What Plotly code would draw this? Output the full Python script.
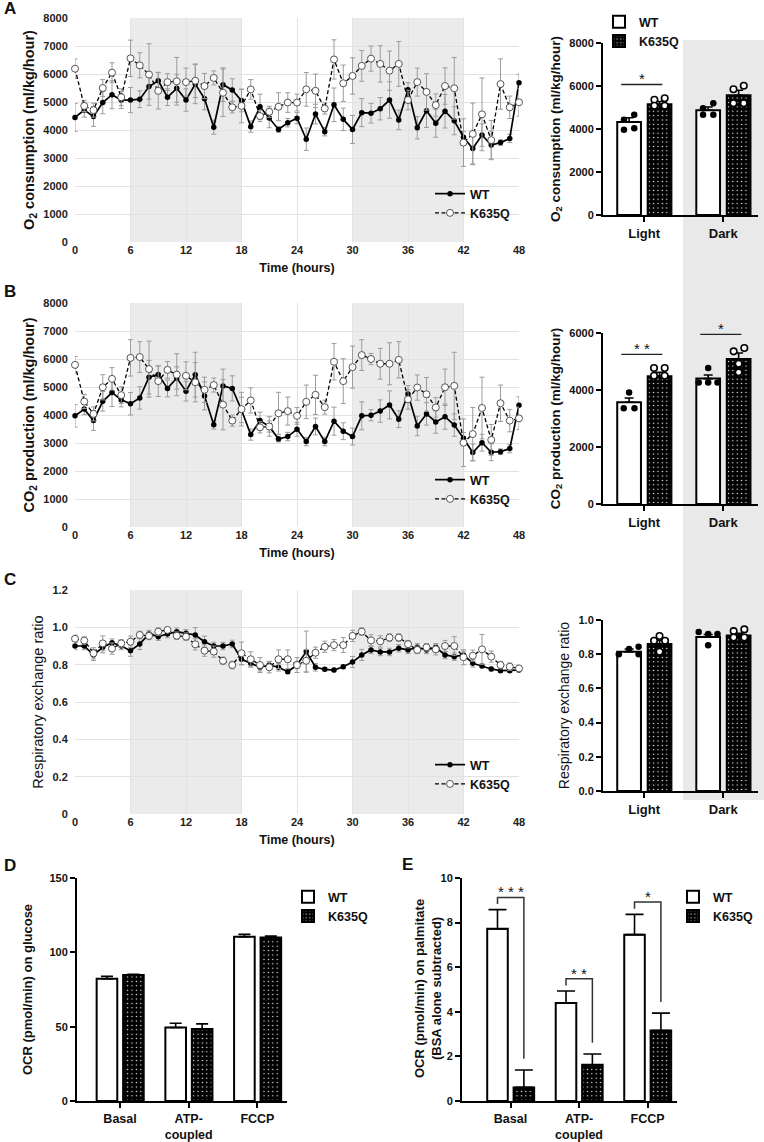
import plotly.graph_objects as go

W, H = 764, 1142
FONT = "Liberation Sans, Arial, sans-serif"

# ---------------- data ----------------
HOURS = list(range(49))
HOUR_TICKS = list(range(0, 49, 6))
DARK_PHASES = [[6, 18], [30, 42]]
GENOTYPES = ["WT", "K635Q"]
PHASES = ["Light", "Dark"]
SEAHORSE_CATS = ["Basal", "ATP-<br>coupled", "FCCP"]

O2_WT = [4450, 4710, 4480, 4980, 5260, 5070, 5070, 5100, 5550, 5760,
         5170, 5490, 5070, 5640, 5120, 4100, 5620, 5430, 5050, 4120,
         4830, 4430, 4020, 4260, 4420, 3670, 4570, 3940, 4900, 4380,
         4020, 4620, 4600, 4760, 5070, 4360, 5440, 4080, 4690, 4240,
         4670, 4330, 3740, 3340, 3820, 3460, 3550, 3700, 5690]
O2_WT_ERR = [500, 250, 350, 400, 500, 300, 450, 300, 450, 300,
             300, 500, 400, 700, 400, 250, 600, 400, 400, 200,
             450, 350, 100, 150, 200, 400, 350, 150, 600, 400,
             500, 500, 350, 400, 650, 350, 250, 400, 600, 500,
             600, 500, 200, 550, 400, 500, 100, 150, 300]
O2_KQ = [6190, 4860, 4710, 5500, 6050, 5170, 6560, 6310, 5980, 5400,
         5710, 5740, 5710, 5760, 5570, 5860, 5330, 4810, 4860, 5450,
         4500, 4650, 4830, 4980, 4980, 5450, 5400, 4770, 6520, 5670,
         5930, 6290, 6550, 6360, 6120, 6360, 5070, 5710, 5360, 4890,
         5570, 5490, 3550, 3860, 4560, 3640, 5640, 4810, 4990]
O2_KQ_ERR = [350, 200, 250, 300, 350, 300, 650, 450, 1100, 650,
             300, 850, 500, 600, 450, 250, 850, 200, 600, 350,
             200, 200, 500, 350, 300, 600, 600, 200, 700, 650,
             650, 550, 450, 650, 700, 800, 350, 500, 650, 400,
             650, 1100, 850, 1100, 1300, 700, 900, 400, 500]

CO2_WT = [3970, 4210, 3800, 4490, 4800, 4540, 4400, 4610, 5350, 5450,
          4950, 5320, 4850, 5440, 4680, 3650, 5040, 4950, 4180, 3300,
          3800, 3590, 3140, 3230, 3490, 3050, 3590, 3050, 3780, 3420,
          3230, 3970, 3990, 4140, 4360, 3850, 4750, 3610, 4040, 3750,
          3940, 3640, 3170, 2660, 3010, 2670, 2690, 2800, 4350]
CO2_WT_ERR = [400, 200, 350, 350, 500, 250, 400, 400, 600, 300,
              300, 400, 350, 800, 500, 150, 600, 450, 450, 200,
              300, 350, 100, 150, 250, 150, 300, 150, 500, 300,
              300, 500, 200, 400, 500, 300, 300, 350, 400, 400,
              450, 400, 200, 300, 300, 300, 100, 150, 300]
CO2_KQ = [5790, 4480, 4040, 4990, 5290, 4710, 6040, 6070, 5640, 5210,
          5610, 5440, 5400, 5170, 4900, 5070, 4370, 3800, 4210, 4520,
          3560, 3590, 4060, 4140, 3970, 4470, 4720, 4280, 5900, 5210,
          5710, 6140, 6000, 5830, 5830, 5970, 4560, 4980, 4740, 4270,
          4990, 5040, 3010, 3320, 4250, 3110, 4420, 3800, 3880]
CO2_KQ_ERR = [300, 250, 250, 450, 400, 300, 650, 550, 1000, 550,
              300, 750, 500, 700, 450, 250, 900, 200, 600, 450,
              200, 200, 750, 500, 300, 600, 700, 250, 650, 800,
              750, 550, 200, 550, 750, 650, 350, 450, 600, 350,
              650, 1200, 850, 950, 1100, 550, 650, 400, 400]

RER_WT = [0.900, 0.900, 0.852, 0.893, 0.918, 0.900, 0.875, 0.911, 0.964, 0.950,
          0.964, 0.977, 0.968, 0.959, 0.923, 0.900, 0.900, 0.911, 0.829, 0.807,
          0.786, 0.798, 0.786, 0.762, 0.798, 0.870, 0.786, 0.775, 0.771, 0.789,
          0.814, 0.852, 0.879, 0.868, 0.868, 0.888, 0.879, 0.893, 0.879, 0.893,
          0.852, 0.843, 0.852, 0.807, 0.793, 0.777, 0.768, 0.768, 0.771]
RER_WT_ERR = [0.02, 0.02, 0.03, 0.03, 0.02, 0.02, 0.03, 0.03, 0.02, 0.02,
              0.02, 0.02, 0.02, 0.04, 0.03, 0.02, 0.02, 0.02, 0.03, 0.02,
              0.02, 0.02, 0.02, 0.01, 0.02, 0.11, 0.02, 0.01, 0.01, 0.01,
              0.03, 0.03, 0.02, 0.02, 0.02, 0.02, 0.02, 0.02, 0.02, 0.02,
              0.02, 0.02, 0.02, 0.02, 0.01, 0.01, 0.01, 0.01, 0.01]
RER_KQ = [0.939, 0.929, 0.861, 0.914, 0.886, 0.914, 0.923, 0.959, 0.954, 0.977,
          0.986, 0.955, 0.950, 0.909, 0.875, 0.870, 0.821, 0.798, 0.861, 0.829,
          0.798, 0.786, 0.829, 0.829, 0.798, 0.821, 0.864, 0.896, 0.905, 0.905,
          0.954, 0.977, 0.930, 0.925, 0.945, 0.945, 0.910, 0.879, 0.893, 0.882,
          0.900, 0.900, 0.840, 0.848, 0.882, 0.843, 0.798, 0.789, 0.780]
RER_KQ_ERR = [0.02, 0.02, 0.03, 0.04, 0.03, 0.02, 0.03, 0.02, 0.02, 0.02,
              0.01, 0.02, 0.02, 0.03, 0.03, 0.03, 0.02, 0.02, 0.06, 0.04,
              0.04, 0.03, 0.05, 0.05, 0.04, 0.06, 0.03, 0.03, 0.03, 0.04,
              0.03, 0.02, 0.03, 0.03, 0.02, 0.02, 0.02, 0.02, 0.02, 0.03,
              0.03, 0.05, 0.04, 0.03, 0.08, 0.03, 0.02, 0.02, 0.01]

# light/dark summaries: [Light, Dark]
O2_BAR_WT = [4330, 4870]
O2_BAR_WT_ERR = [190, 150]
O2_BAR_KQ = [5150, 5570]
O2_BAR_KQ_ERR = [130, 230]
O2_PTS_WT = [[4430, 4660, 3960, 4040], [4970, 5200, 4660, 4660]]
O2_PTS_KQ = [[5360, 5430, 5080, 5080], [5850, 6010, 5200, 5200]]
O2_SIG = ["*", ""]

CO2_BAR_WT = [3570, 4400]
CO2_BAR_WT_ERR = [150, 125]
CO2_BAR_KQ = [4480, 5090]
CO2_BAR_KQ_ERR = [140, 210]
CO2_PTS_WT = [[3915, 3364, 3364], [4771, 4267, 4267, 4267]]
CO2_PTS_KQ = [[4771, 4771, 4502, 4502], [5357, 5474, 4923, 4619]]
CO2_SIG = ["* *", "*"]

RER_BAR_WT = [0.815, 0.900]
RER_BAR_WT_ERR = [0.015, 0.015]
RER_BAR_KQ = [0.860, 0.910]
RER_BAR_KQ_ERR = [0.020, 0.012]
RER_PTS_WT = [[0.844, 0.830, 0.800, 0.800], [0.930, 0.918, 0.918, 0.853]]
RER_PTS_KQ = [[0.906, 0.879, 0.879, 0.814], [0.935, 0.945, 0.898, 0.898]]

GLU_WT = [82.2, 49.4, 110.5]
GLU_WT_ERR = [1.6, 2.9, 1.6]
GLU_KQ = [84.7, 48.5, 110.0]
GLU_KQ_ERR = [0.5, 3.4, 0.9]

PAL_WT = [7.72, 4.39, 7.46]
PAL_WT_ERR = [0.86, 0.54, 0.91]
PAL_KQ = [0.61, 1.62, 3.16]
PAL_KQ_ERR = [0.78, 0.49, 0.78]
PAL_SIG = ["* * *", "* *", "*"]

# ---------------- style / layout constants ----------------
GRID = "#e2e2e2"
SHADE = "#ebebeb"
ERRGREY = "#9c9c9c"

# horizontal dot offsets within a bar (layout only)
JIT_O2_WT = [[-0.065, 0.065, -0.065, 0.065], [-0.065, 0.065, -0.065, 0.065]]
JIT_O2_KQ = [[-0.065, 0.065, -0.065, 0.065], [-0.065, 0.065, -0.065, 0.065]]
JIT_CO2_WT = [[0.0, -0.068, 0.068], [0.0, -0.12, 0.0, 0.118]]
JIT_CO2_KQ = [[-0.07, 0.065, -0.07, 0.065], [-0.063, 0.072, 0.0, 0.0]]
JIT_RER_WT = [[0.12, 0.0, -0.13, 0.12], [-0.12, 0.0, 0.118, 0.0]]
JIT_RER_KQ = [[0.0, -0.07, 0.07, 0.0], [-0.063, 0.072, -0.063, 0.072]]

BAR_W = 0.30
WT_OFF = -0.34
KQ_OFF = 0.045


def xdom(l, r):
    return [l / W, r / W]


def ydom(t, b):
    return [1 - b / H, 1 - t / H]


def f(size, bold=True, color="#111"):
    d = dict(family=FONT, size=size, color=color)
    if bold:
        d["weight"] = "bold"
    return d


fig = go.Figure()
shapes = []
annotations = []


# ---------------- time series ----------------
def add_ts(wt, wt_err, kq, kq_err, n, leg):
    xa, ya = ("x", "y") if n == 1 else (f"x{n}", f"y{n}")
    fig.add_trace(go.Scatter(
        x=HOURS, y=wt, mode="lines+markers", name=GENOTYPES[0],
        line=dict(color="black", width=1.7),
        marker=dict(symbol="circle", size=5.5, color="black"),
        error_y=dict(type="data", array=wt_err, color=ERRGREY, thickness=1, width=2.5),
        xaxis=xa, yaxis=ya, legend=leg, legendgroup=f"{leg}wt", cliponaxis=False))
    fig.add_trace(go.Scatter(
        x=HOURS, y=kq, mode="lines+markers", name=GENOTYPES[1],
        line=dict(color="black", width=1.3, dash="4px,2.5px"),
        marker=dict(symbol="circle", size=7, color="white", line=dict(color="#444", width=0.9)),
        error_y=dict(type="data", array=kq_err, color=ERRGREY, thickness=1, width=2.5),
        xaxis=xa, yaxis=ya, legend=leg, legendgroup=f"{leg}kq", cliponaxis=False))
    for a, b in DARK_PHASES:
        shapes.append(dict(type="rect", xref=xa, yref=f"{ya} domain", x0=a, x1=b, y0=0, y1=1,
                           fillcolor=SHADE, line=dict(width=0), layer="below"))


add_ts(O2_WT, O2_WT_ERR, O2_KQ, O2_KQ_ERR, 1, "legend")
add_ts(CO2_WT, CO2_WT_ERR, CO2_KQ, CO2_KQ_ERR, 3, "legend3")
add_ts(RER_WT, RER_WT_ERR, RER_KQ, RER_KQ_ERR, 5, "legend4")


# ---------------- light/dark bars ----------------
KQ_MARKER = dict(color="black", line=dict(color="black", width=2),
                 pattern=dict(shape=".", fgcolor="white", bgcolor="black", size=4.4, solidity=0.08))
WT_MARKER = dict(color="white", line=dict(color="black", width=2))


def add_bars(cats, wt, wt_err, kq, kq_err, n, leg, showleg, capw):
    xa, ya = f"x{n}", f"y{n}"
    xs = list(range(len(cats)))
    fig.add_trace(go.Bar(
        x=xs, y=wt, width=BAR_W, offset=WT_OFF, name=GENOTYPES[0], marker=WT_MARKER,
        error_y=dict(type="data", array=wt_err, arrayminus=[0] * len(xs), symmetric=False,
                     color="black", thickness=1.6, width=capw),
        xaxis=xa, yaxis=ya, legend=leg, legendgroup=f"{leg}wt", showlegend=showleg))
    fig.add_trace(go.Bar(
        x=xs, y=kq, width=BAR_W, offset=KQ_OFF, name=GENOTYPES[1], marker=KQ_MARKER,
        error_y=dict(type="data", array=kq_err, arrayminus=[0] * len(xs), symmetric=False,
                     color="black", thickness=1.6, width=capw),
        xaxis=xa, yaxis=ya, legend=leg, legendgroup=f"{leg}kq", showlegend=showleg))


def add_points(pts_wt, pts_kq, jit_wt, jit_kq, n):
    xa, ya = f"x{n}", f"y{n}"
    cw = WT_OFF + BAR_W / 2
    ck = KQ_OFF + BAR_W / 2
    xw, yw, xk, yk = [], [], [], []
    for i, (pw, jw) in enumerate(zip(pts_wt, jit_wt)):
        xw += [i + cw + j for j in jw]
        yw += pw
    for i, (pk, jk) in enumerate(zip(pts_kq, jit_kq)):
        xk += [i + ck + j for j in jk]
        yk += pk
    fig.add_trace(go.Scatter(x=xw, y=yw, mode="markers", showlegend=False,
                             marker=dict(size=6.5, color="black"),
                             xaxis=xa, yaxis=ya, cliponaxis=False))
    fig.add_trace(go.Scatter(x=xk, y=yk, mode="markers", showlegend=False,
                             marker=dict(size=6.5, color="white", line=dict(color="black", width=1.6)),
                             xaxis=xa, yaxis=ya, cliponaxis=False))


def add_sig_lines(sig, pts_wt, pts_kq, means_wt, err_wt, means_kq, err_kq, ymax, n):
    for i, s in enumerate(sig):
        if not s:
            continue
        top = max(max(pts_wt[i]), max(pts_kq[i]), means_wt[i] + err_wt[i], means_kq[i] + err_kq[i])
        yl = top + 0.08 * ymax
        shapes.append(dict(type="line", xref=f"x{n}", yref=f"y{n}", x0=i - 0.29, x1=i + 0.23,
                           y0=yl, y1=yl, line=dict(color="#222", width=1.3)))
        annotations.append(dict(x=i - 0.03, y=yl, xref=f"x{n}", yref=f"y{n}", text=s,
                                showarrow=False, yanchor="bottom", yshift=-5,
                                font=f(15, bold=False, color="#111")))


add_bars(PHASES, O2_BAR_WT, O2_BAR_WT_ERR, O2_BAR_KQ, O2_BAR_KQ_ERR, 2, "legend2", True, 4.5)
add_points(O2_PTS_WT, O2_PTS_KQ, JIT_O2_WT, JIT_O2_KQ, 2)
add_sig_lines(O2_SIG, O2_PTS_WT, O2_PTS_KQ, O2_BAR_WT, O2_BAR_WT_ERR, O2_BAR_KQ, O2_BAR_KQ_ERR, 8000, 2)

add_bars(PHASES, CO2_BAR_WT, CO2_BAR_WT_ERR, CO2_BAR_KQ, CO2_BAR_KQ_ERR, 4, "legend2", False, 4.5)
add_points(CO2_PTS_WT, CO2_PTS_KQ, JIT_CO2_WT, JIT_CO2_KQ, 4)
add_sig_lines(CO2_SIG, CO2_PTS_WT, CO2_PTS_KQ, CO2_BAR_WT, CO2_BAR_WT_ERR, CO2_BAR_KQ, CO2_BAR_KQ_ERR, 6000, 4)

add_bars(PHASES, RER_BAR_WT, RER_BAR_WT_ERR, RER_BAR_KQ, RER_BAR_KQ_ERR, 6, "legend2", False, 4.5)
add_points(RER_PTS_WT, RER_PTS_KQ, JIT_RER_WT, JIT_RER_KQ, 6)

# ---------------- seahorse bars ----------------
add_bars(SEAHORSE_CATS, GLU_WT, GLU_WT_ERR, GLU_KQ, GLU_KQ_ERR, 7, "legend5", True, 6)
add_bars(SEAHORSE_CATS, PAL_WT, PAL_WT_ERR, PAL_KQ, PAL_KQ_ERR, 8, "legend6", True, 9)

cw = WT_OFF + BAR_W / 2
ck = KQ_OFF + BAR_W / 2
for i, s in enumerate(PAL_SIG):
    wtop = PAL_WT[i] + PAL_WT_ERR[i]
    ktop = PAL_KQ[i] + PAL_KQ_ERR[i]
    yb = wtop + 0.55
    path = (f"M {i + cw} {yb - 0.3} L {i + cw} {yb} L {i + ck} {yb} L {i + ck} {ktop + 0.5}")
    shapes.append(dict(type="path", xref="x8", yref="y8", path=path,
                       line=dict(color="#333", width=1.5)))
    annotations.append(dict(x=i, y=yb, xref="x8", yref="y8", text=s, showarrow=False,
                            yanchor="bottom", yshift=-5, font=f(15, bold=False, color="#111")))

# E y-axis title placed as an annotation (two lines)
annotations.append(dict(x=428 / W, y=1 - 989 / H, xref="paper", yref="paper",
                        text="OCR (pmol/min) on palmitate<br>(BSA alone subtracted)",
                        textangle=-90, showarrow=False, xanchor="center", yanchor="middle",
                        font=f(13)))

# ---------------- background panel behind Dark column ----------------
shapes.append(dict(type="rect", xref="paper", yref="paper", x0=683 / W, x1=1.0,
                   y0=1 - 800 / H, y1=1 - 40 / H, fillcolor="#e9e9e9",
                   line=dict(width=0), layer="below"))

# ---------------- panel letters ----------------
for lab, xp, yp in [("A", 2, 8), ("B", 2, 291), ("C", 2, 579), ("D", 2, 865), ("E", 400, 864)]:
    annotations.append(dict(x=xp / W, y=1 - yp / H, xref="paper", yref="paper", text=lab,
                            showarrow=False, xanchor="left", yanchor="middle", font=f(17)))

# ---------------- axes ----------------
def ts_xaxis(dom_y_anchor):
    return dict(domain=xdom(75, 519), anchor=dom_y_anchor, range=[0, 48], tickvals=HOUR_TICKS,
                showgrid=True, gridcolor=GRID, gridwidth=1, zeroline=False, showline=False,
                ticks="", tickfont=f(11, color="#222"),
                title=dict(text="Time (hours)", font=f(12.5), standoff=8), automargin=False)


def ts_yaxis(anchor, top, bottom, rng, dtick, title, bold, tickvals=None, ticktext=None):
    d = dict(domain=ydom(top, bottom), anchor=anchor, range=rng, dtick=dtick,
             showgrid=True, gridcolor=GRID, gridwidth=1, zeroline=False, showline=False,
             ticks="outside", ticklen=4, tickcolor="rgba(0,0,0,0)", tickfont=f(11, color="#222"),
             title=dict(text=title, font=f(14.5, bold=bold), standoff=5), automargin=False)
    if tickvals is not None:
        d.update(tickmode="array", tickvals=tickvals, ticktext=ticktext)
    return d


BAR_LINE = dict(showline=True, linecolor="black", linewidth=2, ticks="outside", ticklen=5,
                tickwidth=2, tickcolor="black", showgrid=False, zeroline=False, automargin=False)


def bar_xaxis(anchor, l, r, rng, cats, size):
    return dict(domain=xdom(l, r), anchor=anchor, range=rng, tickmode="array",
                tickvals=list(range(len(cats))), ticktext=cats, tickfont=f(size), **BAR_LINE)


def bar_yaxis(anchor, top, bottom, rng, tickvals, title, bold, standoff, size=13.5, fmt=None):
    d = dict(domain=ydom(top, bottom), anchor=anchor, range=rng, tickmode="array",
             tickvals=tickvals, tickfont=f(11), **BAR_LINE)
    if title:
        d["title"] = dict(text=title, font=f(size, bold=bold), standoff=standoff)
    if fmt:
        d["tickformat"] = fmt
    return d


RER_TICKS = [0, 0.2, 0.4, 0.6, 0.8, 1.0, 1.2]
RER_TICKTEXT = ["0", "0.2", "0.4", "0.6", "0.8", "1.0", "1.2"]

layout = dict(
    xaxis=ts_xaxis("y"),
    yaxis=ts_yaxis("x", 18, 242, [0, 8000], 1000, "O<sub>2</sub> consumption (ml/kg/hour)", True),
    xaxis3=ts_xaxis("y3"),
    yaxis3=ts_yaxis("x3", 303, 527, [0, 8000], 1000, "CO<sub>2</sub> production (ml/kg/hour)", True),
    xaxis5=ts_xaxis("y5"),
    yaxis5=ts_yaxis("x5", 590, 814, [0, 1.2], 0.2, "Respiratory exchange ratio", False,
                    RER_TICKS, RER_TICKTEXT),
    xaxis2=bar_xaxis("y2", 603, 758, [-0.52, 1.44], PHASES, 13),
    yaxis2=bar_yaxis("x2", 43, 215, [0, 8000], [0, 2000, 4000, 6000, 8000],
                     "O<sub>2</sub> consumption (ml/kg/hour)", True, 6),
    xaxis4=bar_xaxis("y4", 603, 758, [-0.52, 1.44], PHASES, 13),
    yaxis4=bar_yaxis("x4", 333, 504, [0, 6000], [0, 2000, 4000, 6000],
                     "CO<sub>2</sub> production (ml/kg/hour)", True, 6),
    xaxis6=bar_xaxis("y6", 603, 758, [-0.52, 1.44], PHASES, 13),
    yaxis6=bar_yaxis("x6", 620, 791, [0, 1.0], [0, 0.2, 0.4, 0.6, 0.8, 1.0],
                     "Respiratory exchange ratio", False, 6, size=14, fmt=".1f"),
    xaxis7=bar_xaxis("y7", 77, 287, [-0.626, 2.43], SEAHORSE_CATS, 12.5),
    yaxis7=bar_yaxis("x7", 878, 1101, [0, 150], [0, 50, 100, 150],
                     "OCR (pmol/min) on glucose", True, 14, size=13),
    xaxis8=bar_xaxis("y8", 462, 677, [-0.708, 2.43], SEAHORSE_CATS, 12.5),
    yaxis8=bar_yaxis("x8", 878, 1101, [0, 10], [0, 2, 4, 6, 8, 10], None, True, 6, size=13),
)


def legend_at(xp, yp, gap):
    return dict(x=xp / W, y=1 - yp / H, xanchor="left", yanchor="top", bgcolor="rgba(0,0,0,0)",
                borderwidth=0, font=f(12.5), itemwidth=30, tracegroupgap=gap, traceorder="normal")


layout.update(
    legend=legend_at(430, 179, 2),
    legend2=legend_at(599, 7, 4),
    legend3=legend_at(430, 465, 2),
    legend4=legend_at(430, 750, 2),
    legend5=legend_at(288, 882, 4),
    legend6=legend_at(673, 882, 4),
)

fig.update_layout(**layout)
fig.update_layout(
    width=W, height=H, margin=dict(l=0, r=0, t=0, b=0),
    paper_bgcolor="white", plot_bgcolor="rgba(0,0,0,0)",
    barmode="overlay", showlegend=True, template="none",
    font=dict(family=FONT, color="#111"),
    shapes=shapes, annotations=annotations,
)

fig.write_html("out.html",
               config={"displayModeBar": False, "staticPlot": True},
               post_script="document.body.style.margin='0';document.body.style.padding='0';"
                           "document.documentElement.style.overflow='hidden';")
